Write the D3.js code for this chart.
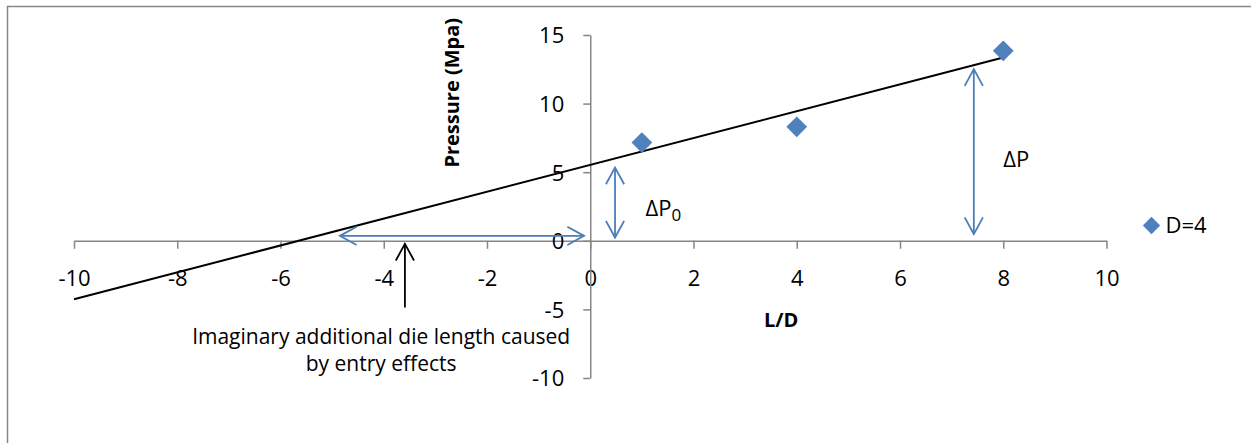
<!DOCTYPE html>
<html>
<head>
<meta charset="utf-8">
<script src="https://cdn.jsdelivr.net/npm/d3@7"></script>
<style>
  html, body { margin: 0; padding: 0; background: #fff; }
  svg { display: block; font-family: "Open Sans", "Noto Sans", sans-serif; }
</style>
</head>
<body>
<svg id="chart" width="1251" height="443"></svg>
<script>
// data
const ldValues = [1, 4, 8];
const pressureValues = [7.16, 8.31, 13.85];
const seriesName = "D=4";
const xTicks = [-10, -8, -6, -4, -2, 0, 2, 4, 6, 8, 10];
const yTicks = [-10, -5, 0, 5, 10, 15];
const trendRange = [-10, 8];

const blue = "#4f81bd";
const arrowBlue = "#4a7ebb";
const gray = "#868686";

const svg = d3.select("#chart");

const x = d3.scaleLinear().domain([-10, 10]).range([74, 1106.5]);
const y = d3.scaleLinear().domain([-10, 15]).range([378, 35]);

// outer frame (runs off the right / bottom edge)
svg.append("rect")
  .attr("x", 7.5).attr("y", 6.5)
  .attr("width", 1300).attr("height", 500)
  .attr("fill", "none").attr("stroke", gray).attr("stroke-width", 1.5);

// plain hyphen minus, like the original
const fmt = d => String(d);

// x axis through y = 0
const xAxis = svg.append("g")
  .attr("transform", "translate(0," + y(0) + ")")
  .call(d3.axisBottom(x).tickValues(xTicks).tickSize(8).tickSizeOuter(0).tickFormat(fmt));

// y axis through x = 0
const yAxis = svg.append("g")
  .attr("transform", "translate(" + x(0) + ",0)")
  .call(d3.axisLeft(y).tickValues(yTicks).tickSize(7).tickSizeOuter(0).tickFormat(fmt));

[xAxis, yAxis].forEach(g => {
  g.select(".domain").attr("stroke", gray).attr("stroke-width", 1.5);
  g.selectAll(".tick line").attr("stroke", gray).attr("stroke-width", 1.5);
  g.selectAll(".tick text")
    .attr("fill", "#000")
    .style("font-family", "'Open Sans', sans-serif")
    .style("font-size", "22px");
});
xAxis.selectAll(".tick text").attr("y", 0).attr("dy", 0).attr("transform", "translate(0,45)");
yAxis.selectAll(".tick text").attr("x", -26).attr("dy", "0.36em");

// axis titles
svg.append("text")
  .attr("transform", "translate(" + (x(0) - 131) + "," + y(10.79) + ") rotate(-90)")
  .attr("text-anchor", "middle")
  .style("font-size", "20px").style("font-weight", "bold")
  .text("Pressure (Mpa)");

svg.append("text")
  .attr("x", x(3.70)).attr("y", y(-6.25))
  .attr("text-anchor", "middle")
  .style("font-size", "20px").style("font-weight", "bold")
  .text("L/D");

// linear trend line (least squares, forecast backward to -10)
const mx = d3.mean(ldValues), my = d3.mean(pressureValues);
const sxy = d3.sum(ldValues, (v, i) => (v - mx) * (pressureValues[i] - my));
const sxx = d3.sum(ldValues, v => (v - mx) * (v - mx));
const slope = sxy / sxx;
const intercept = my - slope * mx;

svg.append("line")
  .attr("x1", x(trendRange[0])).attr("y1", y(intercept + slope * trendRange[0]))
  .attr("x2", x(trendRange[1])).attr("y2", y(intercept + slope * trendRange[1]))
  .attr("stroke", "#000").attr("stroke-width", 2);

// data points
const diamond = d3.symbol().type(d3.symbolSquare).size(215);
svg.append("g").selectAll("path")
  .data(ldValues.map((v, i) => ({ ld: v, p: pressureValues[i] })))
  .join("path")
  .attr("d", diamond)
  .attr("transform", d => "translate(" + x(d.ld) + "," + y(d.p) + ") rotate(45)")
  .attr("fill", blue);

// annotation arrows
function arrow(x1, y1, x2, y2, color, both) {
  const g = svg.append("g").attr("stroke", color).attr("stroke-width", 1.8).attr("fill", "none");
  const px1 = x(x1), py1 = y(y1), px2 = x(x2), py2 = y(y2);
  g.append("line").attr("x1", px1).attr("y1", py1).attr("x2", px2).attr("y2", py2);
  const head = (tx, ty, fx, fy) => {
    const a = Math.atan2(fy - ty, fx - tx);
    const len = 19, spread = 0.5;
    const p1 = [tx + len * Math.cos(a + spread), ty + len * Math.sin(a + spread)];
    const p2 = [tx + len * Math.cos(a - spread), ty + len * Math.sin(a - spread)];
    g.append("path").attr("d", "M" + p1 + "L" + tx + "," + ty + "L" + p2);
  };
  head(px2, py2, px1, py1);
  if (both) head(px1, py1, px2, py2);
}

arrow(-4.85, 0.36, -0.12, 0.36, arrowBlue, true);
arrow(0.48, 0.24, 0.48, 5.34, arrowBlue, true);
arrow(7.43, 0.49, 7.43, 12.51, arrowBlue, true);
arrow(-3.59, -4.86, -3.59, -0.22, "#000", false);

// annotation labels
const dp0 = svg.append("text")
  .attr("x", x(1.07)).attr("y", y(1.82))
  .style("font-size", "22px");
dp0.append("tspan").text("\u0394P");
dp0.append("tspan").attr("dy", 5).style("font-size", "17px").text("0");

svg.append("text")
  .attr("x", x(8.0)).attr("y", y(5.35))
  .style("font-size", "22px")
  .text("\u0394P");

const note = svg.append("text")
  .attr("text-anchor", "middle")
  .style("font-size", "21px");
note.append("tspan").attr("x", x(-4.05)).attr("y", y(-7.5)).text("Imaginary additional die length caused");
note.append("tspan").attr("x", x(-4.05)).attr("y", y(-9.5)).text("by entry effects");

// legend
const legend = svg.append("g").attr("transform", "translate(1151.5,225.5)");
legend.append("path").attr("d", d3.symbol().type(d3.symbolSquare).size(150)).attr("transform", "rotate(45)").attr("fill", blue);
legend.append("text").attr("x", 14).attr("y", 7).style("font-size", "22px").text(seriesName);
</script>
</body>
</html>
